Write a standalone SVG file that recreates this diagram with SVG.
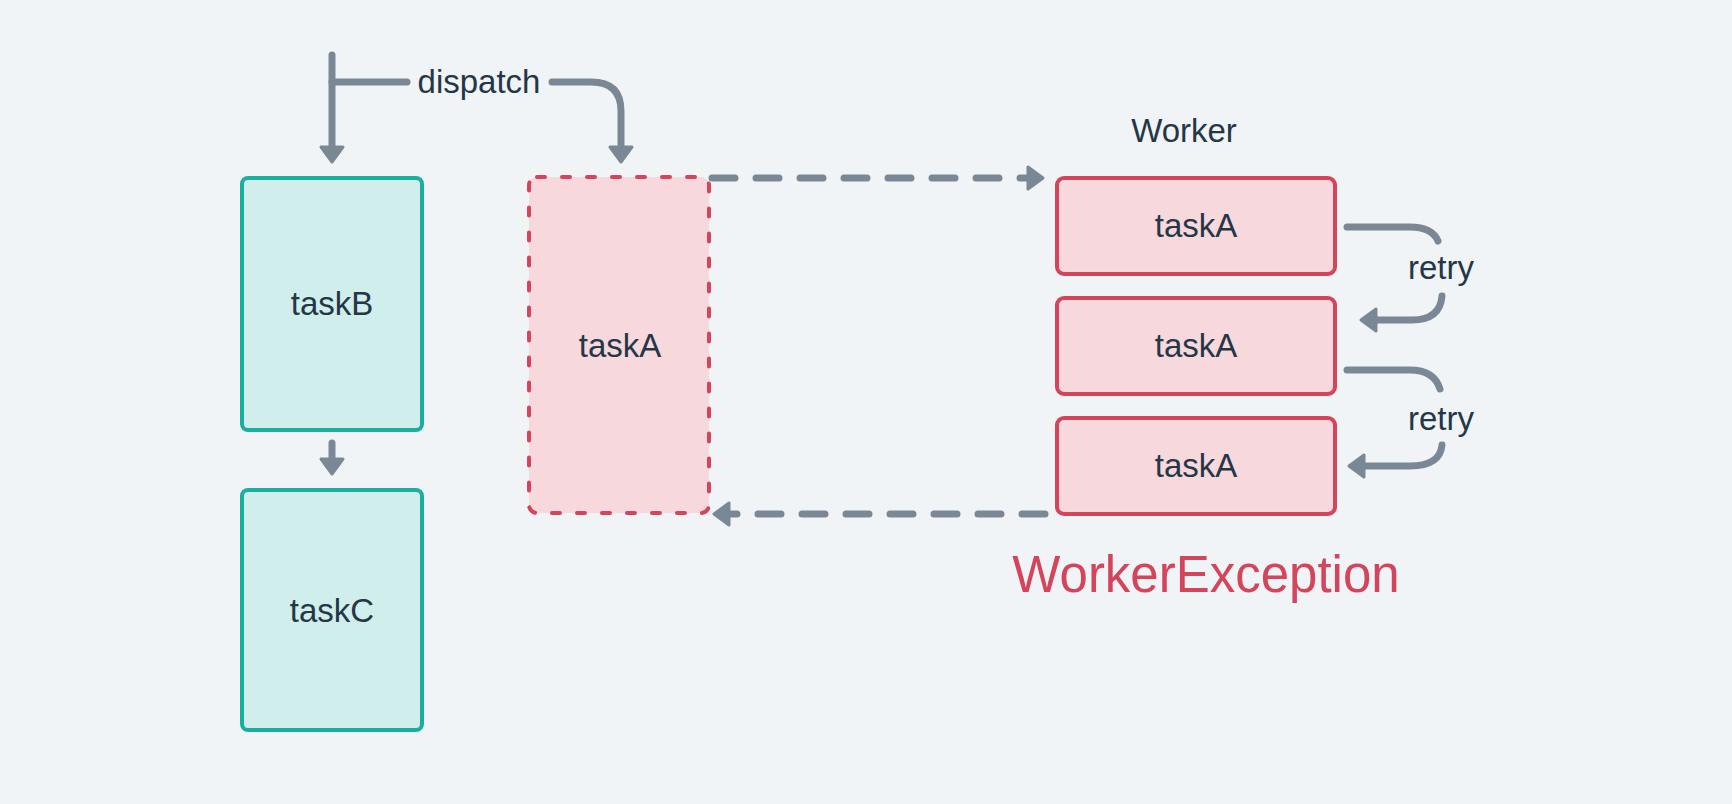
<svg xmlns="http://www.w3.org/2000/svg" width="1732" height="804" viewBox="0 0 1732 804">
<style>
.lbl{font-family:"Liberation Sans",Arial,sans-serif;font-size:33px;fill:#253746;text-anchor:middle}
.exc{font-family:"Liberation Sans",Arial,sans-serif;font-size:51px;fill:#d4455b;text-anchor:middle}
.teal{fill:#d0eeec;stroke:#1aae9f;stroke-width:4}
.red{fill:#f7d8dd;stroke:#d4455b;stroke-width:4}
.reddash{fill:#f7d8dd;stroke:#d4455b;stroke-width:4;stroke-dasharray:8 17;stroke-linecap:round}
.con{fill:none;stroke:#7a8896;stroke-width:7;stroke-linecap:round;stroke-linejoin:round}
.dash{stroke-dasharray:23 21}
</style>
<defs>
<marker id="ah" markerUnits="userSpaceOnUse" markerWidth="40" markerHeight="40" viewBox="-5 -20 40 40" refX="0" refY="0" orient="auto" overflow="visible">
<path d="M0,-11 L15,0 L0,11 Z" fill="#7a8896" stroke="#7a8896" stroke-width="3" stroke-linejoin="round"/>
</marker>
</defs>
<rect width="1732" height="804" fill="#f0f4f7"/>
<g id="connectors">
<path class="con" d="M332,55 V147" marker-end="url(#ah)"/>
<path class="con" d="M332,82 H407"/>
<path class="con" d="M552,82 H591 Q621,82 621,111 V147" marker-end="url(#ah)"/>
<path class="con" d="M332,443 V459" marker-end="url(#ah)"/>
<path class="con dash" d="M712,178 H1028" marker-end="url(#ah)"/>
<path class="con dash" d="M1045,514 H729" marker-end="url(#ah)"/>
<path class="con" d="M1347,227 H1410 Q1432,227 1438,241"/>
<path class="con" d="M1442,296 Q1440,320 1412,320 H1376" marker-end="url(#ah)"/>
<path class="con" d="M1347,370 H1410 Q1434,370 1440,389"/>
<path class="con" d="M1442,445 Q1440,466 1410,466 H1364" marker-end="url(#ah)"/>
<text class="lbl" x="479" y="93">dispatch</text>
<text class="lbl" x="1441" y="279">retry</text>
<text class="lbl" x="1441" y="430">retry</text>
</g>
<g id="taskB">
<rect class="teal" x="242" y="178" width="180" height="252" rx="6"/>
<text class="lbl" x="332" y="315">taskB</text>
</g>
<g id="taskC">
<rect class="teal" x="242" y="490" width="180" height="240" rx="6"/>
<text class="lbl" x="332" y="622">taskC</text>
</g>
<g id="taskA-dispatched">
<rect class="reddash" x="529" y="177" width="180" height="336" rx="8"/>
<text class="lbl" x="620" y="357">taskA</text>
</g>
<g id="worker">
<text class="lbl" x="1184" y="142">Worker</text>
</g>
<g id="worker-taskA-1">
<rect class="red" x="1057" y="178" width="278" height="96" rx="7"/>
<text class="lbl" x="1196" y="237">taskA</text>
</g>
<g id="worker-taskA-2">
<rect class="red" x="1057" y="298" width="278" height="96" rx="7"/>
<text class="lbl" x="1196" y="357">taskA</text>
</g>
<g id="worker-taskA-3">
<rect class="red" x="1057" y="418" width="278" height="96" rx="7"/>
<text class="lbl" x="1196" y="477">taskA</text>
</g>
<g id="worker-exception">
<text class="exc" x="1206" y="592">WorkerException</text>
</g>
</svg>
